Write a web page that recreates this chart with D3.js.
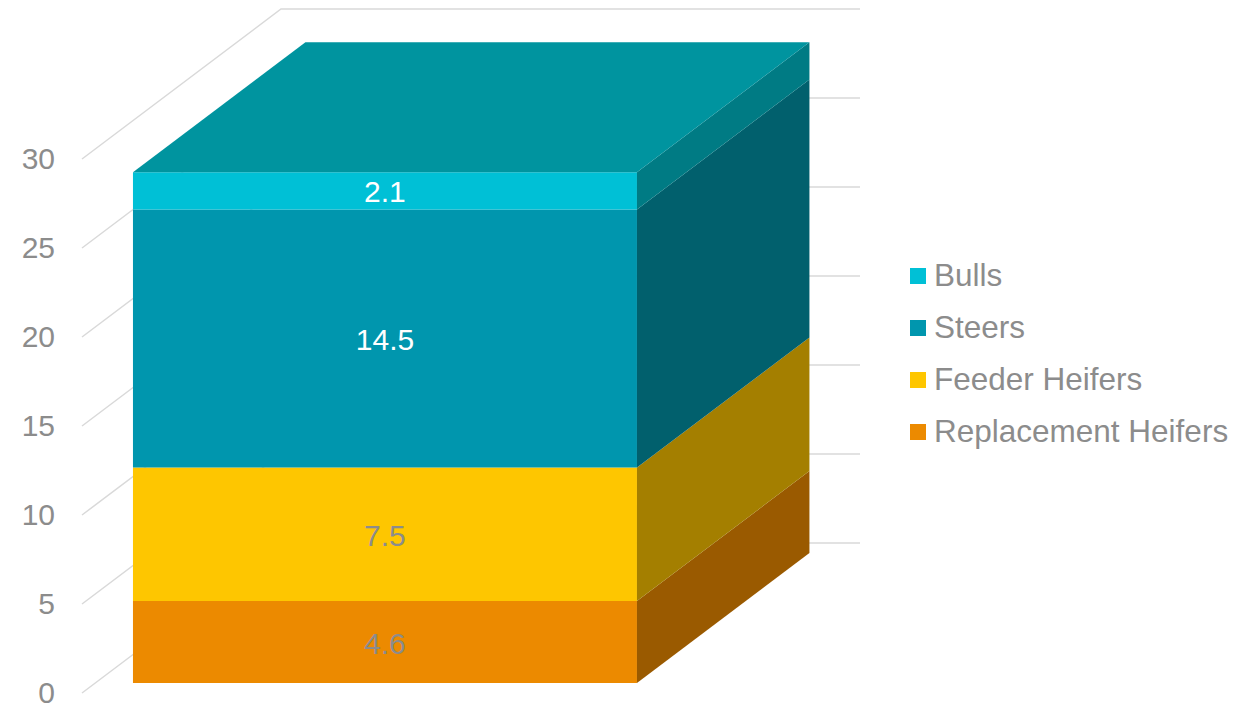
<!DOCTYPE html>
<html>
<head>
<meta charset="utf-8">
<script src="https://cdn.jsdelivr.net/npm/d3@7"></script>
<style>
  html, body { margin: 0; padding: 0; background: #ffffff; }
  svg text { font-family: "Liberation Sans", Arial, Helvetica, sans-serif; }
</style>
</head>
<body>
<svg id="chart" width="1248" height="706"></svg>
<script>
// ---- data ----
const categories = ["Cattle"];
const seriesNames = ["Replacement Heifers", "Feeder Heifers", "Steers", "Bulls"];
const seriesValues = [4.6, 7.5, 14.5, 2.1];
const tickValues = [0, 5, 10, 15, 20, 25, 30];
const legendOrder = ["Bulls", "Steers", "Feeder Heifers", "Replacement Heifers"];

// ---- styles ----
const frontColors = {"Replacement Heifers": "#ec8a00", "Feeder Heifers": "#fec600", "Steers": "#0096ae", "Bulls": "#00c0d6"};
const sideColors  = {"Replacement Heifers": "#9a5a00", "Feeder Heifers": "#a47f00", "Steers": "#01606d", "Bulls": "#007b84"};
const topColor = "#00949f";
const labelColors = {"Replacement Heifers": "#8c8c8c", "Feeder Heifers": "#8c8c8c", "Steers": "#ffffff", "Bulls": "#ffffff"};

const svg = d3.select("#chart");

// 3D geometry
const depthDX = 199, depthDY = -150;   // full floor depth offset
const barT0 = 10 / 150, barT1 = 140 / 150; // bar depth range (fraction)
const y = d3.scaleLinear().domain([0, 30]).range([693, 159]);   // front plane
const x = d3.scaleBand().domain(categories).range([119.7, 623.7]).padding(0);
const axisX = 82, wallRight = 860;

function P(xv, v, t) { return [xv + depthDX * t, y(v) + depthDY * t]; }

// gridlines
const grid = svg.append("g");
tickValues.forEach(v => {
  const a = P(axisX, v, 0), b = P(axisX, v, 1);
  grid.append("polyline")
    .attr("points", [a, b, [wallRight, b[1]]].map(p => p.join(",")).join(" "))
    .attr("fill", "none").attr("stroke", "#d9d9d9").attr("stroke-width", 1.5);
});

// axis labels
svg.append("g").selectAll("text").data(tickValues).join("text")
  .attr("x", 55).attr("y", d => y(d) - 1)
  .attr("text-anchor", "end").attr("dominant-baseline", "central")
  .attr("font-size", 30).attr("fill", "#8c8c8c")
  .text(d => d);

// stacked bar
const stackData = [Object.fromEntries(seriesNames.map((s, i) => [s, seriesValues[i]]))];
const stacked = d3.stack().keys(seriesNames)(stackData);
const cat = categories[0];
const xl = x(cat), xr = x(cat) + x.bandwidth();
const bar = svg.append("g");

stacked.forEach(layer => {
  const name = layer.key, [v0, v1] = layer[0];
  const fl = P(xl, v0, barT0), fr = P(xr, v0, barT0), ftl = P(xl, v1, barT0), ftr = P(xr, v1, barT0);
  bar.append("polygon")
    .attr("points", [fl, fr, ftr, ftl].map(p => p.join(",")).join(" "))
    .attr("fill", frontColors[name]);
  const bb = P(xr, v0, barT1), bt = P(xr, v1, barT1);
  bar.append("polygon")
    .attr("points", [fr, ftr, bt, bb].map(p => p.join(",")).join(" "))
    .attr("fill", sideColors[name]);
});
// top face
const topV = stacked[stacked.length - 1][0][1];
bar.append("polygon")
  .attr("points", [P(xl, topV, barT0), P(xr, topV, barT0), P(xr, topV, barT1), P(xl, topV, barT1)].map(p => p.join(",")).join(" "))
  .attr("fill", topColor);

// data labels
stacked.forEach(layer => {
  const name = layer.key, [v0, v1] = layer[0];
  const c = P((xl + xr) / 2, (v0 + v1) / 2, barT0);
  bar.append("text")
    .attr("x", c[0]).attr("y", c[1] + 1)
    .attr("text-anchor", "middle").attr("dominant-baseline", "central")
    .attr("font-size", 30).attr("fill", labelColors[name])
    .text(d3.format(".1f")(v1 - v0));
});

// legend
const legend = svg.append("g");
legendOrder.forEach((name, i) => {
  const cy = 275 + i * 52;
  legend.append("rect").attr("x", 910).attr("y", cy - 7).attr("width", 16).attr("height", 16)
    .attr("fill", frontColors[name]);
  legend.append("text").attr("x", 934).attr("y", cy)
    .attr("dominant-baseline", "central")
    .attr("font-size", 31.5).attr("fill", "#8c8c8c")
    .text(name);
});
</script>
</body>
</html>
